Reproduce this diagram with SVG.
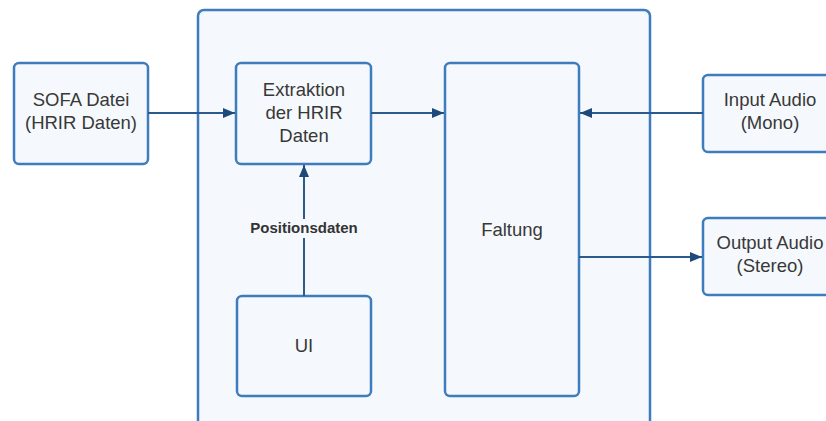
<svg xmlns="http://www.w3.org/2000/svg" width="826" height="421" viewBox="0 0 826 421">
<style>
.box{fill:#f5f9fd;stroke:#3f7cbd;stroke-width:2.5}
.t{font-family:"Liberation Sans",Arial,sans-serif;font-size:18.5px;fill:#383838;text-anchor:middle}
.lbl{font-family:"Liberation Sans",Arial,sans-serif;font-size:15px;font-weight:bold;fill:#333;text-anchor:middle}
.c{fill:none;stroke:#2b5b8c;stroke-width:2}
</style>
<defs>
<marker id="ah" viewBox="0 0 12 10" refX="12" refY="5" markerWidth="12" markerHeight="10" markerUnits="userSpaceOnUse" orient="auto">
<path d="M0,0 L12,5 L0,10 Z" fill="#1d4a7a"/>
</marker>
</defs>
<rect width="826" height="421" fill="#fff"/>
<g id="container"><rect class="box" x="198" y="10" width="452" height="430" rx="6"/></g>
<g id="sofa"><rect class="box" x="14" y="63" width="134" height="101" rx="5"/><text class="t" x="81" y="106">SOFA Datei</text><text class="t" x="81" y="129">(HRIR Daten)</text></g>
<g id="extraktion"><rect class="box" x="236" y="63" width="135" height="101" rx="5"/><text class="t" x="304" y="96">Extraktion</text><text class="t" x="304" y="119">der HRIR</text><text class="t" x="304" y="142">Daten</text></g>
<g id="faltung"><rect class="box" x="445" y="63" width="134" height="333" rx="5"/><text class="t" x="512" y="236">Faltung</text></g>
<g id="ui"><rect class="box" x="237" y="296" width="134" height="100" rx="5"/><text class="t" x="304" y="352">UI</text></g>
<g id="input"><rect class="box" x="703" y="75" width="140" height="77" rx="5"/><text class="t" x="770" y="106">Input Audio</text><text class="t" x="770" y="129">(Mono)</text></g>
<g id="output"><rect class="box" x="703" y="218" width="140" height="77" rx="5"/><text class="t" x="770" y="249">Output Audio</text><text class="t" x="770" y="272">(Stereo)</text></g>
<g id="connectors">
<path class="c" d="M148,113 H235" marker-end="url(#ah)"/>
<path class="c" d="M371,113 H444" marker-end="url(#ah)"/>
<path class="c" d="M703,113 H580" marker-end="url(#ah)"/>
<path class="c" d="M579,257 H702" marker-end="url(#ah)"/>
<path class="c" d="M304,296 V165" marker-end="url(#ah)"/>
<rect x="248" y="219" width="112" height="19" fill="#f5f9fd"/>
<text class="lbl" x="304" y="233">Positionsdaten</text>
</g>
</svg>
